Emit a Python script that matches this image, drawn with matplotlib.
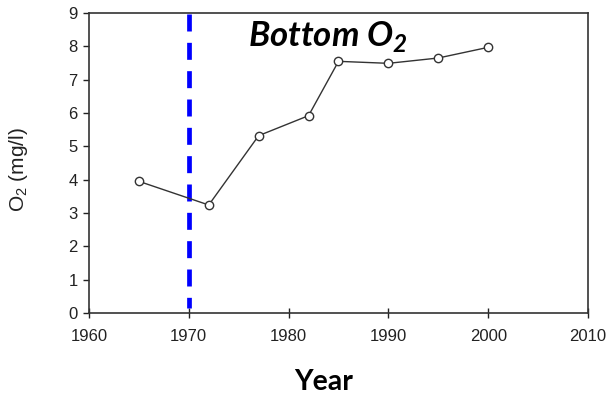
import matplotlib
matplotlib.use("Agg")
import matplotlib.pyplot as plt

# -----------------------------
# Data
# -----------------------------
years = [1965, 1972, 1977, 1982, 1985, 1990, 1995, 2000]
o2 = [3.95, 3.24, 5.32, 5.92, 7.55, 7.49, 7.65, 7.97]
event_year = 1970

x_ticks = [1960, 1970, 1980, 1990, 2000, 2010]
y_ticks = list(range(0, 10))

# -----------------------------
# Plot
# -----------------------------
plt.rcParams["font.family"] = ["Liberation Sans", "DejaVu Sans"]

fig = plt.figure(figsize=(6.12, 3.94), dpi=100)
ax = fig.add_axes([0.1454, 0.2056, 0.8154, 0.7614])

ax.plot(years, o2, color="#333333", lw=1.0, marker="o", ms=6,
        mfc="white", mec="#333333", mew=1.0, zorder=3)
# drawn top -> bottom so the dash pattern starts at the top spine
ax.axvline(event_year, ymin=0.997, ymax=0.017, color="#0000ff", lw=3.4,
           ls=(0, (3.6, 2.4)), zorder=2)

ax.set_xlim(1960, 2010)
ax.set_ylim(0, 9)
ax.set_xticks(x_ticks)
ax.set_yticks(y_ticks)
ax.tick_params(axis="x", direction="inout", length=7, width=1, labelsize=12,
               pad=8, colors="#222222")
ax.tick_params(axis="y", direction="out", length=4, width=1, labelsize=12,
               pad=4, colors="#222222")
for s in ax.spines.values():
    s.set_color("#333333")
    s.set_linewidth(1.2)

fig.text(19 / 612, 1 - 170 / 394, r"O$_\mathregular{2}$ (mg/l)", fontsize=15,
         color="#222222", rotation=90, ha="center", va="center")
fig.text(324 / 612, 4 / 394, "Year", fontsize=20.5, fontweight="bold",
         family=["Lato", "DejaVu Sans"], ha="center", va="baseline")
ax.text(0.319, 0.89, r"Bottom O$_\mathregular{2}$", transform=ax.transAxes,
        fontsize=25, fontweight="bold", fontstyle="italic",
        family=["Lato", "DejaVu Sans"], ha="left", va="baseline")

fig.savefig("out.png", dpi=100)
